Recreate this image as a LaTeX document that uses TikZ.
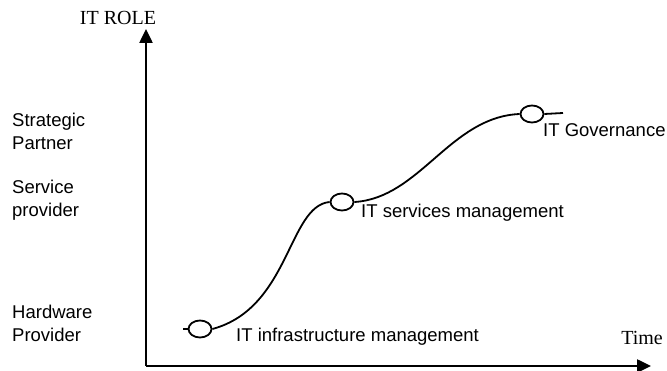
\documentclass[tikz,border=0pt]{standalone}
\usepackage{fontspec}
\setmainfont{Liberation Serif}
\setsansfont{Liberation Sans}
\usetikzlibrary{arrows.meta,shapes.geometric}
\tikzset{
  axis/.style={line width=2.5pt,-{Triangle[length=14pt,width=13pt]}},
  stage/.style={ellipse,draw,line width=1.8pt,minimum width=23pt,minimum height=17pt,inner sep=0pt},
  path/.style={line width=1.8pt},
  lbl/.style={font=\sffamily\fontsize{18.5}{23}\selectfont,inner sep=0pt},
  role/.style={lbl,align=left,anchor=west},
  axlbl/.style={font=\fontsize{20}{24}\selectfont,inner sep=0pt}
}
\begin{document}
\begin{tikzpicture}[x=1pt,y=-1pt]
    \useasboundingbox (0,0) rectangle (667,371);
    % axes
    \coordinate (O) at (146,366);
    \coordinate (ytip) at (146,29);
    \coordinate (xtip) at (651,366);
    \draw[axis] (O) -- (ytip);
    \draw[axis] (O) -- (xtip);
    \node[axlbl] (ylab) at (118,18) {IT ROLE};
    \node[axlbl] (xlab) at (642,338) {Time};
    % roles
    \node[role] (strat) at (12,131) {Strategic\\Partner};
    \node[role] (serv) at (12,200) {Service\\provider};
    \node[role] (hard) at (12,323) {Hardware\\Provider};
    % stages
    \node[stage] (infra) at (200,329) {};
    \node[stage] (itsm) at (342,202) {};
    \node[stage] (gov) at (532,114) {};
    \coordinate (s0) at (183,329);
    \coordinate (s1) at (563,113);
    \draw[path] (s0) -- (infra.west);
    \draw[path] (infra.east) .. controls (290,308) and (288,206) .. (itsm.west);
    \draw[path] (itsm.east) .. controls (420,198) and (450,117) .. (gov.west);
    \draw[path] (gov.east) -- (s1);
    \node[lbl,anchor=west] (l1) at (236,337) {IT infrastructure management};
    \node[lbl,anchor=west] (l2) at (361,213) {IT services management};
    \node[lbl,anchor=west] (l3) at (543,130) {IT Governance};
  \end{tikzpicture}
\end{document}
